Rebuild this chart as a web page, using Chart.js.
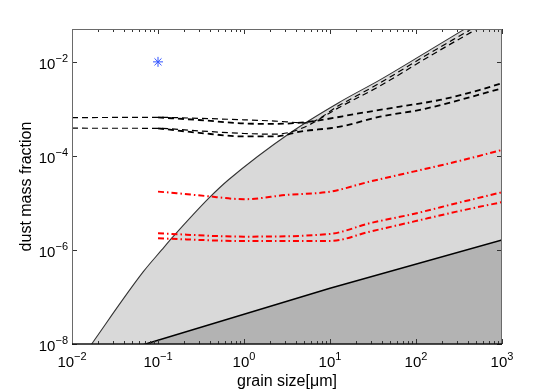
<!DOCTYPE html>
<html><head><meta charset="utf-8">
<script src="https://cdn.jsdelivr.net/npm/chart.js@4.4.1/dist/chart.umd.min.js"></script>
<style>html,body{margin:0;padding:0;background:#fff}canvas{display:block}</style>
</head><body><canvas id="c" width="554" height="389"></canvas>
<script>
// ---- data (values in axis units) ----
const xLimits = [0.01, 1000];
const yLimits = [1e-8, 0.05];
const xTickExponents = [-2, -1, 0, 1, 2, 3];
const yTickExponents = [-8, -6, -4, -2];
const xTitle = 'grain size[\u03bcm]';
const yTitle = 'dust mass fraction';

const boundaryX = [0.01, 0.01694, 0.0675, 0.1104, 0.149, 0.403, 0.656, 3.43, 13.1, 38.1, 146, 371.5, 1000];
const boundaryY = [2.5e-9, 1e-8, 3.45e-7, 1e-6, 1.89e-6, 1.34e-5, 3.08e-5, 3.08e-4, 1.41e-3, 4.14e-3, 1.80e-2, 5.04e-2, 0.15];

const floorX = [0.01, 0.0718, 10, 1000];
const floorY = [3.1e-9, 1e-8, 1.53e-7, 1.63e-6];

const blackUpperLongX = [0.01, 0.1, 0.3, 1, 2.3, 5.3, 13.1, 38.1, 146, 425, 1000];
const blackUpperLongY = [6.53e-4, 6.6e-4, 6.3e-4, 5.85e-4, 5.5e-4, 5.04e-4, 1.22e-3, 3.57e-3, 1.55e-2, 4.8e-2, 0.12];
const blackLowerLongX = [0.01, 0.1, 0.3, 1, 2.3, 4.5, 13.1, 38.1, 146, 425, 1000];
const blackLowerLongY = [3.88e-4, 3.86e-4, 3.4e-4, 3.0e-4, 2.9e-4, 3.75e-4, 1.10e-3, 3.08e-3, 1.34e-2, 4.14e-2, 0.1];
const blackUpperShortX = [0.1, 0.3, 1, 2.3, 5.85, 22.3, 65.2, 190, 555, 1000];
const blackUpperShortY = [6.6e-4, 5.8e-4, 4.9e-4, 4.8e-4, 5.37e-4, 8.11e-4, 1.12e-3, 1.55e-3, 2.54e-3, 3.52e-3];
const blackLowerShortX = [0.1, 0.3, 1, 2.3, 4.5, 13.1, 38.1, 111, 325, 1000];
const blackLowerShortY = [3.86e-4, 3.1e-4, 2.6e-4, 2.6e-4, 3.29e-4, 4.19e-4, 6.85e-4, 9.53e-4, 1.55e-3, 2.75e-3];

const redTopX = [0.1, 0.165, 0.35, 1, 3.14, 10, 29, 93, 297, 1000];
const redTopY = [1.74e-5, 1.61e-5, 1.41e-5, 1.2e-5, 1.48e-5, 1.74e-5, 2.84e-5, 4.63e-5, 7.57e-5, 1.34e-4];
const redMidX = [0.1, 1, 10, 29, 93, 297, 1000];
const redMidY = [2.26e-6, 1.92e-6, 2.19e-6, 3.70e-6, 5.83e-6, 9.86e-6, 1.69e-5];
const redLowX = [0.1, 1, 10, 29, 93, 297, 1000];
const redLowY = [1.77e-6, 1.55e-6, 1.55e-6, 2.45e-6, 4.0e-6, 6.53e-6, 1.04e-5];

const markerX = [0.1];
const markerY = [0.01];

// ---- build ----
function pts(xs, ys) { return xs.map((v, i) => ({ x: v, y: ys[i] })); }
const FONT = "'Liberation Sans', Arial, Helvetica, sans-serif";

function blackDash(xs, ys, w) {
  return { data: pts(xs, ys), borderColor: '#000', borderWidth: w, borderDash: [6, 4],
    pointRadius: 0, fill: false, cubicInterpolationMode: 'monotone', order: 5 };
}
function redDash(xs, ys) {
  return { data: pts(xs, ys), borderColor: '#ff0000', borderWidth: 2, borderDash: [6, 3, 1.5, 3],
    pointRadius: 0, fill: false, cubicInterpolationMode: 'monotone', order: 4 };
}

const decor = {
  id: 'decor',
  afterDraw(chart) {
    const { ctx, chartArea: a, scales: { x, y } } = chart;
    ctx.save();
    const line = (x1, y1, x2, y2) => { ctx.beginPath(); ctx.moveTo(x1, y1); ctx.lineTo(x2, y2); ctx.stroke(); };
    // ticks
    ctx.strokeStyle = '#333'; ctx.lineWidth = 1;
    for (let e = -2; e <= 3; e++) {
      for (let m = 1; m < 10; m++) {
        const v = m * Math.pow(10, e);
        if (v > xLimits[1] + 1e-9) break;
        const px = Math.round(x.getPixelForValue(v)) + 0.5;
        const len = m === 1 ? 5 : 3;
        line(px, a.bottom, px, a.bottom - len);
        line(px, a.top, px, a.top + len);
      }
    }
    yTickExponents.forEach(e => {
      const py = Math.round(y.getPixelForValue(Math.pow(10, e))) + 0.5;
      line(a.left, py, a.left + 5, py);
      line(a.right, py, a.right - 5, py);
    });
    // box
    ctx.strokeStyle = '#6a6a6a';
    line(a.left + 0.5, a.top + 0.5, a.right - 0.5, a.top + 0.5);
    line(a.right - 0.5, a.top, a.right - 0.5, a.bottom);
    line(a.left + 0.5, a.top, a.left + 0.5, a.bottom);
    ctx.strokeStyle = '#111'; ctx.lineWidth = 1.5;
    line(a.left, a.bottom, a.right, a.bottom);
    // tick labels
    ctx.fillStyle = '#000';
    ctx.textBaseline = 'alphabetic';
    const big = '15px ' + FONT, small = '11px ' + FONT;
    xTickExponents.forEach(e => {
      const px = x.getPixelForValue(Math.pow(10, e));
      const ex = (e < 0 ? '\u2212' : '') + Math.abs(e);
      ctx.font = big; const w1 = ctx.measureText('10').width;
      ctx.font = small; const w2 = ctx.measureText(ex).width;
      const s = px - (w1 + w2) / 2;
      ctx.font = big; ctx.textAlign = 'left'; ctx.fillText('10', s, a.bottom + 23);
      ctx.font = small; ctx.fillText(ex, s + w1, a.bottom + 15.5);
    });
    yTickExponents.forEach(e => {
      const py = y.getPixelForValue(Math.pow(10, e));
      const ex = (e < 0 ? '\u2212' : '') + Math.abs(e);
      ctx.font = small; const w2 = ctx.measureText(ex).width;
      ctx.font = big; const w1 = ctx.measureText('10').width;
      const right = a.left - 4;
      ctx.textAlign = 'left';
      ctx.font = big; ctx.fillText('10', right - w2 - w1, py + 7);
      ctx.font = small; ctx.fillText(ex, right - w2, py);
    });
    // axis titles
    ctx.font = '16px ' + FONT;
    ctx.textAlign = 'center';
    ctx.fillText(xTitle, (a.left + a.right) / 2, 386);
    ctx.save();
    ctx.translate(31, (a.top + a.bottom) / 2);
    ctx.rotate(-Math.PI / 2);
    ctx.fillText(yTitle, 0, 0);
    ctx.restore();
    ctx.restore();
  }
};

new Chart(document.getElementById('c'), {
  type: 'line',
  data: {
    datasets: [
      { data: pts(boundaryX, boundaryY), fill: 'start', backgroundColor: '#d9d9d9', borderColor: '#333',
        borderWidth: 1.1, pointRadius: 0, cubicInterpolationMode: 'monotone', order: 100 },
      { data: pts(floorX, floorY), fill: 'start', backgroundColor: '#b3b3b3', borderColor: '#000',
        borderWidth: 1.5, pointRadius: 0, tension: 0, order: 90 },
      blackDash(blackUpperLongX, blackUpperLongY, 1.2),
      blackDash(blackLowerLongX, blackLowerLongY, 1.2),
      blackDash(blackUpperShortX, blackUpperShortY, 1.8),
      blackDash(blackLowerShortX, blackLowerShortY, 1.8),
      redDash(redTopX, redTopY),
      redDash(redMidX, redMidY),
      redDash(redLowX, redLowY),
      { data: pts(markerX, markerY), showLine: false, pointStyle: 'star', pointRadius: 5,
        borderColor: '#3355ff', backgroundColor: '#3355ff', pointBorderWidth: 1, order: 1 }
    ]
  },
  options: {
    responsive: false, animation: false, devicePixelRatio: 1,
    layout: { padding: { top: 29, right: 52, left: 0, bottom: 0 } },
    plugins: { legend: { display: false }, tooltip: { enabled: false } },
    scales: {
      x: { type: 'logarithmic', min: xLimits[0], max: xLimits[1],
        grid: { display: false }, border: { display: false }, ticks: { display: false },
        afterFit: s => { s.height = 45; } },
      y: { type: 'logarithmic', min: yLimits[0], max: yLimits[1],
        grid: { display: false }, border: { display: false }, ticks: { display: false },
        afterFit: s => { s.width = 72; } }
    }
  },
  plugins: [decor]
});
</script>
</body></html>
